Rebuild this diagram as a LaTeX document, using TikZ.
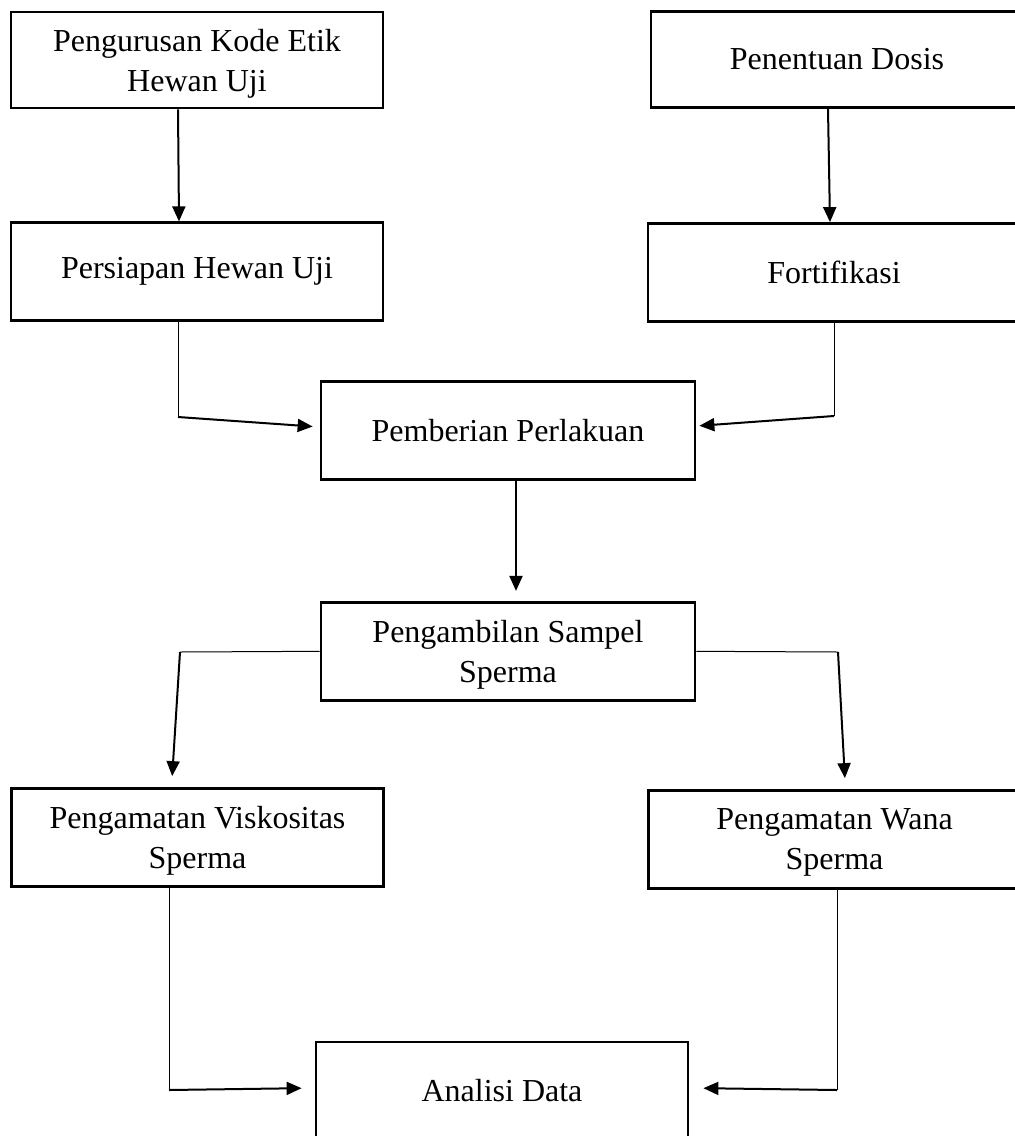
\documentclass[tikz,border=0pt]{standalone}
\usepackage{fontspec}
\setmainfont{Liberation Serif}
\usetikzlibrary{positioning,arrows.meta}

\begin{document}
\begin{tikzpicture}[
        x=0.5pt, y=-0.5pt,
        box/.style = {rectangle, draw=black, line width=1.4pt, minimum width=186pt, minimum height=49pt, inner sep=0pt, align=center, font=\fontsize{16}{20}\selectfont},
        twoline/.style = {text depth=-1.5pt},
        flow/.style = {-{Triangle[length=7.5pt,width=6.5pt]}, line width=1pt},
        link/.style = {line width=0.5pt}
    ]
    \useasboundingbox (0,0) rectangle (1014,1136);

    \node[box, twoline, minimum height=48pt] (kode) at (197,60) {Pengurusan Kode Etik\\Hewan Uji};
    \node[box] (persiapan) [below=56pt of kode] {Persiapan Hewan Uji};
    \node[box, minimum height=48pt] (dosis) at (837,59.5) {Penentuan Dosis};
    \node[box] (fortifikasi) at (834,272.5) {Fortifikasi};
    \node[box, minimum width=187pt] (perlakuan) at (508,430.5) {Pemberian Perlakuan};
    \node[box, twoline, minimum width=187pt] (sampel) [below=60pt of perlakuan] {Pengambilan Sampel\\Sperma};
    \node[box, twoline] (viskositas) at (197.5,837.5) {Pengamatan Viskositas\\Sperma};
    \node[box, twoline] (wana) at (834.5,839.5) {Pengamatan Wana\\Sperma};
    \node[box] (analisi) at (502,1091) {Analisi Data};

    \coordinate (kiri1) at (178,417);
    \coordinate (kanan1) at (834,416);
    \coordinate (kiri2) at (180,652);
    \coordinate (kanan2) at (838,652);
    \coordinate (kiri3) at (169,1090);
    \coordinate (kanan3) at (837,1090);

    \draw[flow] ([xshift=-9.5pt]kode.south) -- ([xshift=-9pt]persiapan.north);
    \draw[flow] ([xshift=-4.5pt]dosis.south) -- ([xshift=-2pt]fortifikasi.north);

    \draw[link] (persiapan.south -| kiri1) -- (kiri1);
    \draw[flow, shorten >=3.5pt] (kiri1) -- ([yshift=1.75pt]perlakuan.west);
    \draw[link] (fortifikasi.south -| kanan1) -- (kanan1);
    \draw[flow, shorten >=1.5pt] (kanan1) -- ([yshift=2.25pt]perlakuan.east);

    \draw[flow, shorten >=5pt] ([xshift=4pt]perlakuan.south) -- ([xshift=4pt]sampel.north);

    \draw[link] (sampel.west) -- (kiri2);
    \draw[flow, shorten >=5.5pt] (kiri2) -- ([xshift=-13pt]viskositas.north);
    \draw[link] (sampel.east) -- (kanan2);
    \draw[flow, shorten >=5.5pt] (kanan2) -- ([xshift=5.5pt]wana.north);

    \draw[link] (viskositas.south -| kiri3) -- (kiri3);
    \draw[flow, shorten >=6.5pt] (kiri3) -- ([yshift=1.5pt]analisi.west);
    \draw[link] (wana.south -| kanan3) -- (kanan3);
    \draw[flow, shorten >=7pt] (kanan3) -- ([yshift=1.5pt]analisi.east);
\end{tikzpicture}
\end{document}
